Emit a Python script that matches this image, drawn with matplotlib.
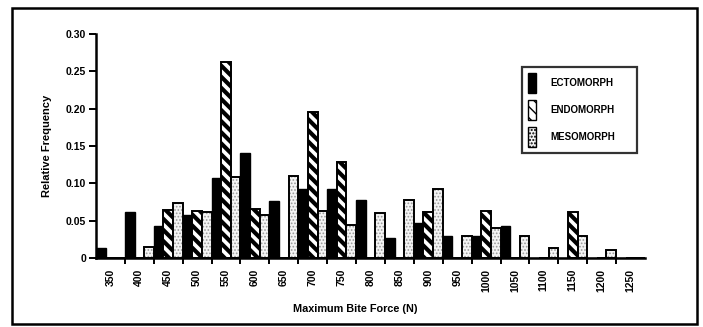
import matplotlib as mpl
import matplotlib.pyplot as plt
import matplotlib.patches as mpatches
import numpy as np
from matplotlib.patches import Rectangle

plt.rcParams['font.family'] = ['Liberation Sans', 'DejaVu Sans']
plt.rcParams['font.weight'] = 'bold'

bins = [350, 400, 450, 500, 550, 600, 650, 700, 750, 800, 850, 900, 950,
        1000, 1050, 1100, 1150, 1200, 1250]
ecto = [0.014, 0.062, 0.043, 0.057, 0.107, 0.140, 0.076, 0.092, 0.092, 0.078,
        0.027, 0.047, 0.029, 0.029, 0.043, 0, 0, 0, 0]
endo = [0, 0, 0.064, 0.063, 0.263, 0.066, 0, 0.195, 0.129, 0,
        0, 0.062, 0, 0.063, 0, 0, 0.061, 0, 0]
meso = [0, 0.015, 0.074, 0.061, 0.108, 0.058, 0.110, 0.063, 0.044, 0.060,
        0.078, 0.092, 0.029, 0.040, 0.030, 0.014, 0.030, 0.011, 0]
yticks = [0, 0.05, 0.10, 0.15, 0.20, 0.25, 0.30]
ylabels = ["0", "0.05", "0.10", "0.15", "0.20", "0.25", "0.30"]

fig = plt.figure(figsize=(7.03, 3.27), dpi=100)
ax = fig.add_axes([96/703, 1-258/327, (645-96)/703, (258-34)/327])

x = np.arange(len(bins))
w = 1/3
ax.bar(x + w/2, ecto, w, color='black', edgecolor='black', linewidth=1)
with mpl.rc_context({'hatch.linewidth': 3.0}):
    ax.bar(x + 1.5*w, endo, w, color='white', edgecolor='black', linewidth=1.4, hatch='\\\\\\')
    endo_h = mpatches.Patch(facecolor='white', edgecolor='black', hatch='\\\\\\', label='ENDOMORPH')
# dotted grey fill, then black outline on top
with mpl.rc_context({'hatch.linewidth': 0.8}):
    ax.bar(x + 2.5*w, meso, w, color='#f4f4f4', edgecolor='#9a9a9a', linewidth=0, hatch='.....')
    meso_h = mpatches.Patch(facecolor='#f4f4f4', edgecolor='black', hatch='.....', label='MESOMORPH')
ax.bar(x + 2.5*w, meso, w, fill=False, edgecolor='black', linewidth=1.4)

ax.set_xlim(0, len(bins))
ax.set_ylim(0, 0.30)
ax.set_yticks(yticks)
ax.set_yticklabels(ylabels, fontsize=7.5)
ax.set_xticks(x + 0.5)
ax.set_xticklabels([str(b) for b in bins], rotation=90, fontsize=7.5)
ax.set_xticks(np.arange(1, len(bins)), minor=True)
ax.tick_params(axis='x', which='major', length=0, pad=8)
ax.tick_params(axis='x', which='minor', length=4, width=1.4, direction='out')
ax.tick_params(axis='y', length=5, width=1.4, direction='out', pad=2)

for s in ['top', 'right']:
    ax.spines[s].set_visible(False)
for s in ['left', 'bottom']:
    ax.spines[s].set_linewidth(1.8)

ax.set_xlabel('Maximum Bite Force (N)', fontsize=7.8, fontweight='bold')
ax.xaxis.set_label_coords(0.472, -0.205)
ax.set_ylabel('Relative Frequency', fontsize=8, fontweight='bold')
ax.yaxis.set_label_coords(-0.08, 0.5)

handles = [mpatches.Patch(facecolor='black', edgecolor='black', label='ECTOMORPH'), endo_h, meso_h]
leg = ax.legend(handles=handles, loc='upper left',
                bbox_to_anchor=((522-96)/549, 1-(160-34)/224, (637-522)/549, (160-67)/224),
                mode='expand', fontsize=7, frameon=True, fancybox=False,
                handlelength=0.8, handleheight=2.8, borderpad=0.6, labelspacing=0.7,
                handletextpad=1.5, borderaxespad=0)
leg.get_frame().set_edgecolor('black')
leg.get_frame().set_linewidth(1.6)

fig.add_artist(Rectangle((12/703, 1-324/327), (697-12)/703, (324-8)/327,
                         transform=fig.transFigure, fill=False, edgecolor='black', linewidth=1.8))

fig.savefig('out.png', dpi=100)
